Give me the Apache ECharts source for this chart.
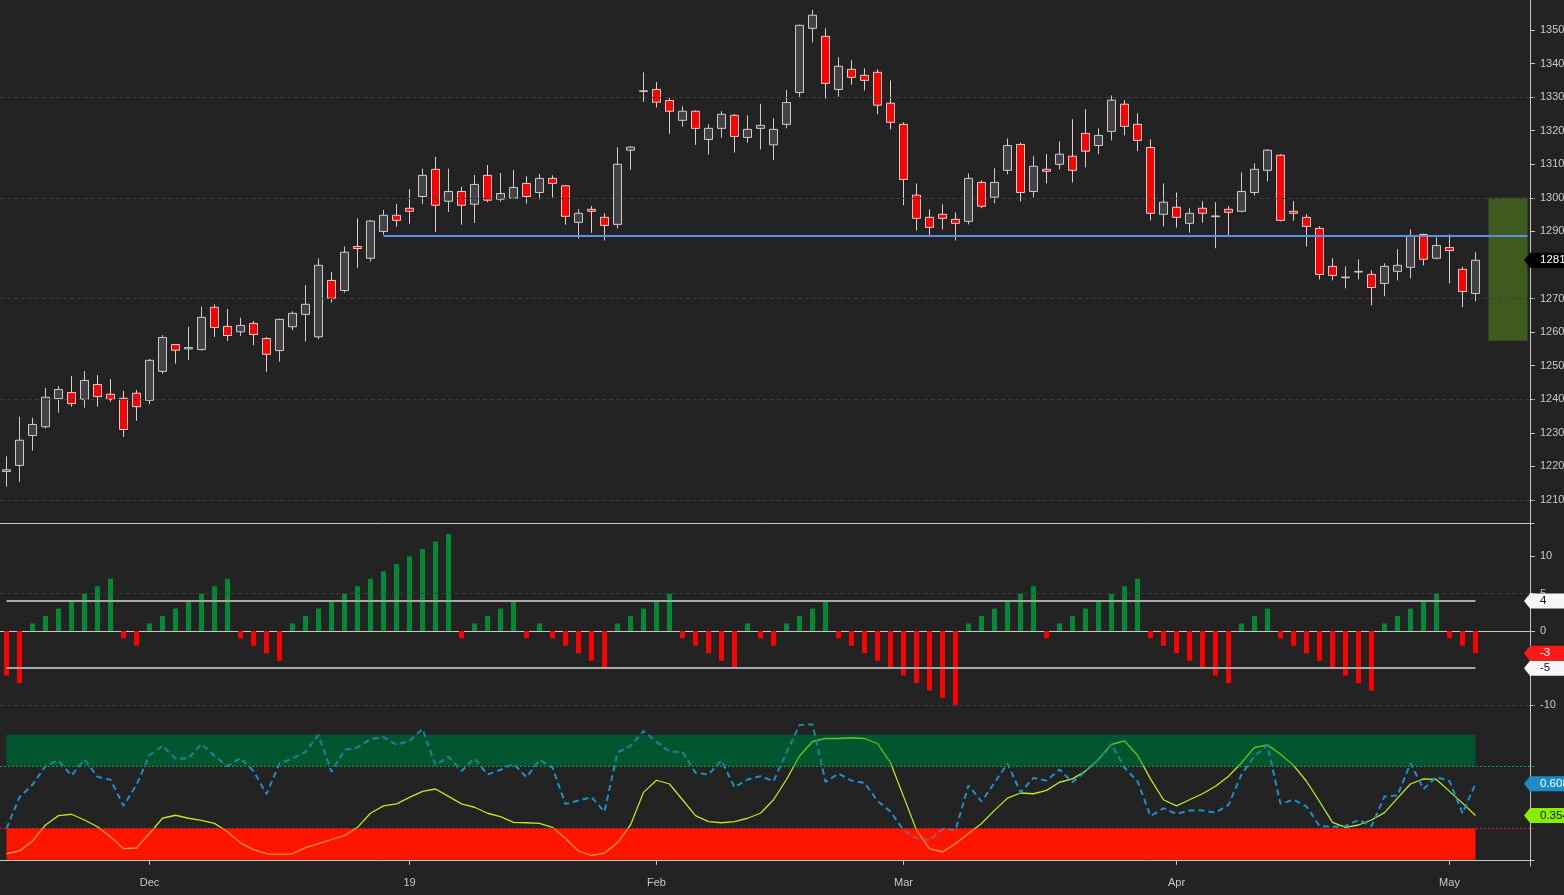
<!DOCTYPE html>
<html><head><meta charset="utf-8">
<script src="https://cdn.jsdelivr.net/npm/echarts@6/dist/echarts.min.js"></script>
<style>html,body{margin:0;padding:0;background:#232323;}#c{width:1564px;height:895px;}</style>
</head><body><div id="c"></div>
<script>
// ---- price candles (one per trading day) ----
const opens = [1218.5,1220.3,1229.2,1231.8,1240.2,1242,1240,1244.4,1241.5,1240.3,
1241.8,1239.7,1248.3,1256.3,1255,1254.8,1267.4,1261.7,1260.1,1262.6,
1258.1,1254.5,1261.6,1265.3,1258.6,1275.4,1272.4,1285.5,1282,1290,
1294.8,1296.9,1300.4,1308.5,1299,1301.9,1298.1,1306.7,1299.6,1299.9,
1304.3,1301.6,1305.8,1303.6,1292.7,1296.6,1294.2,1292.1,1314.2,1331.7,
1332.3,1329,1323.1,1325.8,1317.4,1320.7,1324.6,1318,1320.7,1315.8,
1321.9,1331.4,1350.5,1348.1,1332.3,1338.3,1336.5,1337.4,1328.2,1321.9,
1300.8,1294.2,1295.1,1293.6,1293,1304.6,1300.2,1308.2,1315.9,1301.9,
1308.5,1310,1312.4,1319.2,1315.6,1319.8,1327.9,1321.9,1315,1295.1,
1297.2,1292.4,1296.9,1294.4,1296.6,1296,1301.6,1308.2,1312.7,1296,
1294.2,1290.9,1279.6,1276.2,1277.9,1277.2,1274.5,1278.1,1279.3,1289.1,
1282,1285.2,1278.7,1271.5];
const closes = [1219,1227.8,1232.5,1240.6,1242.9,1238.7,1245.6,1240.8,1240,1231,
1237.8,1251.6,1258.4,1254.6,1255.4,1264.4,1261.4,1259,1262,1259.3,
1253.4,1263.8,1265.6,1268.3,1279.9,1270.1,1283.8,1284.9,1293.1,1294.8,
1293.3,1296,1306.7,1297.8,1301.9,1297.8,1304,1299.3,1301.3,1303.1,
1300.4,1305.8,1304.3,1294.5,1295.4,1296,1291.8,1310,1315.1,1331.9,
1328.5,1325.8,1325.8,1320.7,1320.7,1324.9,1318.3,1320.4,1321.6,1320.4,
1328.4,1351.4,1354.4,1334.1,1339.2,1335.9,1335,1327.6,1322.5,1305.5,
1293.9,1291.2,1293.9,1292.4,1305.8,1297.5,1304.6,1315.6,1301.6,1309.4,
1307.9,1313,1308.2,1313.9,1318.6,1329.1,1321.3,1317.1,1295.4,1298.7,
1294.2,1295.4,1295.4,1294.6,1295.7,1301.9,1308.5,1314.2,1293.3,1295.4,
1291.5,1277.2,1276.9,1276.4,1278.1,1273.3,1279.6,1279.9,1288.8,1281.7,
1285.8,1284.3,1272.1,1281.4];
const highs = [1223,1234.8,1234.5,1243.4,1243.9,1246.9,1248.4,1247.2,1246,1242.5,
1242.8,1252,1259.1,1256.5,1261.6,1267.6,1268.3,1266.9,1264.3,1263.3,
1258.6,1264,1266.2,1274,1282,1277.9,1285.5,1293.9,1293.4,1296.4,
1298.2,1302.6,1308.7,1312.2,1308.7,1303.3,1306.8,1309.8,1307.4,1308.3,
1306.4,1307.1,1306.7,1303.8,1296.6,1297.6,1295.4,1315.1,1315.4,1337.4,
1334.5,1329.8,1327.3,1326.1,1321.9,1325.8,1324.9,1324.6,1328,1323.7,
1332.1,1351.6,1356,1350.5,1341.9,1341,1338.6,1338.3,1335,1322.5,
1304.3,1296.6,1298.1,1295.7,1307.3,1305.2,1308.8,1317.7,1316.5,1312.4,
1313,1316.8,1323.4,1326.4,1320.7,1330.5,1329.1,1325.2,1317.4,1304.3,
1301.6,1296.9,1299,1298.7,1297.5,1307.6,1310.3,1314.5,1313,1299,
1295.1,1291.5,1282,1279.6,1281.7,1278.4,1280.5,1284.7,1290.6,1289.3,
1288.2,1289.1,1279.5,1283.8];
const lows = [1214,1215.4,1224.7,1231.3,1236,1237.8,1237.5,1237.8,1239.3,1228.8,
1233.6,1238.5,1247.6,1250.6,1251.7,1254.5,1258.6,1257.4,1258.9,1256.1,
1248.2,1251.2,1260.6,1257.2,1257.9,1268.8,1271.8,1279.2,1281,1289,
1291.4,1292.3,1298.2,1289.8,1295.8,1292,1292.5,1298.7,1298.9,1299.6,
1298.3,1299.5,1300.1,1292,1287.9,1289.6,1287.3,1290.9,1308.4,1328.6,
1326.9,1319.1,1321.2,1315.8,1312.9,1317.9,1313.5,1316.4,1314.4,1311.2,
1320.7,1330.1,1346.3,1329.6,1330.1,1333.7,1332,1324.9,1320.4,1297.8,
1290.3,1288.7,1290.6,1287.3,1292.1,1296.9,1298.4,1307,1298.9,1300.1,
1304.3,1308.5,1304.6,1309.1,1313,1317.1,1318.6,1313.9,1293.3,1291.5,
1291.1,1289.6,1292.6,1285,1288.5,1295.7,1300.7,1304.9,1293,1293.2,
1285.5,1275.7,1275.4,1273,1275.7,1268,1270.7,1275.4,1276,1279.9,
1281.7,1274.5,1267.4,1269.2];

// ---- momentum count histogram ----
const momentum = [-6,-7,1,2,3,4,5,6,7,-1,-2,1,2,3,4,5,6,7,-1,-2,-3,-4,1,2,3,4,5,6,7,8,9,10,11,12,13,-1,1,2,3,4,
-1,1,-1,-2,-3,-4,-5,1,2,3,4,5,-1,-2,-3,-4,-5,1,-1,-2,1,2,3,4,-1,-2,-3,-4,-5,-6,-7,-8,-9,-10,1,2,3,
4,5,6,-1,1,2,3,4,5,6,7,-1,-2,-3,-4,-5,-6,-7,1,2,3,-1,-2,-3,-4,-5,-6,-7,-8,1,2,3,4,5,-1,-2,-3];

// ---- stochastic oscillator ----
const stochK = [0.25,0.50,0.60,0.75,0.795,0.674,0.803,0.663,0.641,0.431,
0.60,0.836,0.911,0.809,0.811,0.927,0.830,0.749,0.814,0.709,
0.526,0.771,0.809,0.863,0.997,0.704,0.879,0.898,0.965,0.981,
0.919,0.951,1.046,0.757,0.825,0.709,0.811,0.682,0.72,0.768,
0.660,0.80,0.736,0.445,0.474,0.501,0.385,0.857,0.911,1.03,
0.943,0.865,0.865,0.695,0.682,0.795,0.58,0.642,0.668,0.628,
0.857,1.078,1.084,0.623,0.69,0.633,0.615,0.472,0.385,0.237,
0.17,0.156,0.245,0.237,0.596,0.466,0.615,0.771,0.539,0.655,
0.633,0.722,0.62,0.709,0.803,0.925,0.736,0.628,0.35,0.412,
0.367,0.394,0.394,0.377,0.439,0.682,0.83,0.916,0.447,0.48,
0.426,0.27,0.264,0.27,0.318,0.27,0.507,0.515,0.771,0.566,
0.663,0.628,0.372,0.608];
const stochD = [0.049,0.07,0.151,0.278,0.353,0.364,0.318,0.264,0.183,0.089,
0.094,0.21,0.332,0.356,0.332,0.315,0.291,0.224,0.135,0.081,
0.049,0.043,0.049,0.097,0.129,0.162,0.194,0.259,0.372,0.431,
0.447,0.499,0.547,0.566,0.507,0.447,0.42,0.372,0.345,0.299,
0.296,0.291,0.259,0.17,0.07,0.035,0.054,0.137,0.278,0.539,
0.636,0.606,0.48,0.353,0.305,0.296,0.305,0.332,0.372,0.48,
0.642,0.83,0.946,0.97,0.97,0.976,0.97,0.93,0.776,0.507,
0.237,0.089,0.062,0.129,0.21,0.29,0.395,0.493,0.534,0.528,
0.555,0.62,0.647,0.709,0.803,0.922,0.951,0.836,0.647,0.48,
0.431,0.48,0.528,0.588,0.668,0.776,0.898,0.919,0.844,0.755,
0.628,0.466,0.299,0.259,0.278,0.318,0.377,0.493,0.606,0.647,
0.642,0.547,0.453,0.354];

// ---- axes / levels ----
const monthTicks = {11:'Dec',31:'19',50:'Feb',69:'Mar',90:'Apr',111:'May'};
const priceTicks = [1210,1220,1230,1240,1250,1260,1270,1290,1300,1310,1320,1330,1340,1350];
const priceGridLines = [1210,1240,1270,1300,1330];
const momTicks = [10,5,0,-5,-10];
const momGridLines = [5,-10];
const momLevels = [4,-5];
const stochLevels = [0.75,0.25];
const supportLevel = 1288.6;
const supportStart = 29;
const zoneBox = {from:114, to:117, top:1300, bottom:1257.4};
const N_SLOTS = 118;

const categories = Array.from({length:N_SLOTS},(_, i)=>String(i));
const candleData = opens.map((o,i)=>[o, closes[i], lows[i], highs[i]]);
const last = opens.length - 1;

const AX = '#c8c8c8';
const FONT = 'Liberation Sans';
const TAG_PATH = 'path://M0,7.5 L6,0 L50,0 L50,15 L6,15 Z';
function tag(value, text, bg, fg){
  return {coord:[N_SLOTS-1, value], symbol:TAG_PATH, symbolSize:[50,15], symbolOffset:[21.5,0],
    itemStyle:{color:bg}, label:{show:true, position:'inside', formatter:text, color:fg,
    fontSize:11.5, fontFamily:FONT, align:'left', offset:[-9,0]}};
}
const hidden = {show:false};

const chart = echarts.init(document.getElementById('c'));
const grids = [
  {left:0, width:1534, top:0, height:523, containLabel:false, outerBoundsMode:'none'},
  {left:0, width:1534, top:523, height:193, containLabel:false, outerBoundsMode:'none'},
  {left:0, width:1534, top:716, height:150, containLabel:false, outerBoundsMode:'none'}
];
const xAxes = [0,1,2].map(g=>({
  type:'category', gridIndex:g, data:categories, boundaryGap:true,
  axisLine:{show:true, lineStyle:{color:AX, width:1}},
  axisTick:{show:g===2, alignWithLabel:true, length:5, interval:(i)=>monthTicks[i]!==undefined, lineStyle:{color:AX}},
  axisLabel:{show:g===2, interval:(i)=>monthTicks[i]!==undefined, formatter:(v,i)=>monthTicks[i]||'',
    color:AX, fontSize:11, fontFamily:FONT, margin:11},
  splitLine:{show:false}
}));
const plain = (v)=>String(v);
const yAxes = [
  {type:'value', gridIndex:0, position:'right', offset:-4, min:1203.14, max:1358.94,
   axisLine:{show:true, lineStyle:{color:AX}},
   axisTick:{show:true, length:5, customValues:priceTicks, lineStyle:{color:AX}},
   axisLabel:{customValues:priceTicks, formatter:plain, color:AX, fontSize:11, fontFamily:FONT, margin:10},
   splitLine:{show:false}},
  {type:'value', gridIndex:1, position:'right', offset:-4, min:-11.42, max:14.48,
   axisLine:{show:true, lineStyle:{color:AX}},
   axisTick:{show:true, length:5, customValues:momTicks, lineStyle:{color:AX}},
   axisLabel:{customValues:momTicks, formatter:plain, color:AX, fontSize:11, fontFamily:FONT, margin:10},
   splitLine:{show:false}},
  {type:'value', gridIndex:2, position:'right', offset:-4, min:-0.05, max:1.15,
   axisLine:{show:true, lineStyle:{color:AX}}, axisTick:hidden, axisLabel:hidden, splitLine:hidden}
];

const series = [
  // panel 1 gridlines
  {type:'line', xAxisIndex:0, yAxisIndex:0, data:[], z:1, silent:true,
   markLine:{symbol:'none', silent:true, label:hidden, lineStyle:{color:'#3b3b3b', type:[4,3], width:1},
     data:priceGridLines.map(v=>({yAxis:v}))}},
  // candles + zone box
  {type:'candlestick', xAxisIndex:0, yAxisIndex:0, data:candleData, barWidth:8, clip:false, z:3,
   itemStyle:{color:'#444246', color0:'#ff0000', borderColor:'#cccccc', borderColor0:'#e6cccc', borderWidth:1},
   markArea:{silent:true, itemStyle:{color:'#3e5a1f'},
     data:[[{coord:[zoneBox.from, zoneBox.top]},{coord:[zoneBox.to, zoneBox.bottom]}]]}},
  // support line + price tag
  {type:'line', xAxisIndex:0, yAxisIndex:0, data:[], z:6, silent:true,
   markLine:{symbol:'none', silent:true, label:hidden, lineStyle:{color:'#5a8fe8', type:'solid', width:2},
     data:[[{coord:[supportStart, supportLevel]},{coord:[N_SLOTS-1, supportLevel]}]]},
   markPoint:{silent:true, data:[tag(closes[last], String(Math.round(closes[last])), '#000000', '#ffffff')]}},
  // panel 2 gridlines + levels
  {type:'line', xAxisIndex:1, yAxisIndex:1, data:[], z:1, silent:true,
   markLine:{symbol:'none', silent:true, label:hidden, lineStyle:{color:'#3b3b3b', type:[4,3], width:1},
     data:momGridLines.map(v=>({yAxis:v}))}},
  {type:'bar', xAxisIndex:1, yAxisIndex:1, data:momentum, barWidth:5, z:3,
   itemStyle:{color:(p)=>p.value>=0?'#008a34':'#ff0000'}},
  {type:'line', xAxisIndex:1, yAxisIndex:1, data:[], z:6, silent:true,
   markLine:{symbol:'none', silent:true, label:hidden, lineStyle:{color:'#a8a8a8', type:'solid', width:2},
     data:momLevels.map(v=>[{coord:[0,v]},{coord:[last,v]}])},
   markPoint:{silent:true, data:[
     tag(momLevels[0], String(momLevels[0]), '#f6f6f6', '#111111'),
     tag(momLevels[1], String(momLevels[1]), '#f6f6f6', '#111111'),
     tag(momentum[last], String(momentum[last]), '#ff1a1a', '#ffffff')]}},
  // panel 3 bands
  {type:'line', xAxisIndex:2, yAxisIndex:2, data:[], z:1, silent:true,
   markArea:{silent:true, data:[
     [{coord:[0,1.0], itemStyle:{color:'#00552f'}},{coord:[last,stochLevels[0]]}],
     [{coord:[0,stochLevels[1]], itemStyle:{color:'#ff1400'}},{coord:[last,0]}]]},
   markLine:{symbol:'none', silent:true, label:hidden,
     data:[{yAxis:stochLevels[0], lineStyle:{color:'#1e9a50', type:[2,2], width:1}},
           {yAxis:stochLevels[1], lineStyle:{color:'#e02020', type:[2,2], width:1}}]}},
  {type:'line', xAxisIndex:2, yAxisIndex:2, data:stochD, z:3, symbol:'none', silent:true,
   lineStyle:{width:1.3}},
  {type:'line', xAxisIndex:2, yAxisIndex:2, data:stochK, z:4, symbol:'none', silent:true,
   lineStyle:{width:2, type:[6,4]},
   markPoint:{silent:true, data:[
     tag(stochK[last], stochK[last].toFixed(3), '#1a8cc8', '#ffffff'),
     tag(stochD[last], stochD[last].toFixed(3), '#88ee00', '#1a1a1a')]}}
];

chart.setOption({
  animation:false,
  backgroundColor:'#232323',
  grid:grids, xAxis:xAxes, yAxis:yAxes,
  visualMap:[
    {type:'piecewise', show:false, seriesIndex:7, dimension:1,
     pieces:[{lt:0.25, color:'#ff9a10'},{gte:0.25, lte:0.75, color:'#b4ec1e'},{gt:0.75, color:'#4fcf1c'}]},
    {type:'piecewise', show:false, seriesIndex:8, dimension:1,
     pieces:[{lt:0.25, color:'#9a5a72'},{gte:0.25, lte:0.75, color:'#1b90cc'},{gt:0.75, color:'#12889a'}]}
  ],
  series:series
});
</script></body></html>
